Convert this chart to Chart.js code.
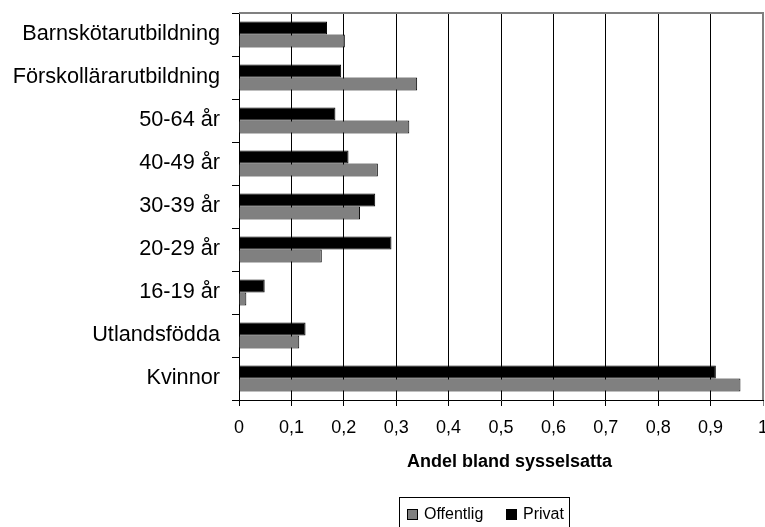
<!DOCTYPE html>
<html>
<head>
<meta charset="utf-8">
<script src="https://cdn.jsdelivr.net/npm/chart.js@4"></script>
<style>
  body { margin: 0; background: #fff; }
  canvas { display: block; }
</style>
</head>
<body>
<canvas id="chart" width="765" height="527"></canvas>
<script>
const categories = [
  "Barnskötarutbildning",
  "Förskollärarutbildning",
  "50-64 år",
  "40-49 år",
  "30-39 år",
  "20-29 år",
  "16-19 år",
  "Utlandsfödda",
  "Kvinnor"
];
const privat = [0.168, 0.195, 0.184, 0.209, 0.260, 0.291, 0.049, 0.127, 0.910];
const offentlig = [0.202, 0.340, 0.325, 0.265, 0.231, 0.158, 0.014, 0.115, 0.957];
const xTicks = { min: 0, max: 1, step: 0.1 };
const axisTitle = "Andel bland sysselsatta";

const FONT = "'Liberation Sans', Arial, sans-serif";

// top/right frame of the plot area, axis title and boxed legend
const framePlugin = {
  id: "frame",
  afterDraw(chart) {
    const { ctx, chartArea } = chart;
    ctx.save();
    ctx.strokeStyle = "#808080";
    ctx.lineWidth = 2;
    ctx.beginPath();
    ctx.moveTo(chartArea.left, chartArea.top);
    ctx.lineTo(chartArea.right, chartArea.top);
    ctx.lineTo(chartArea.right, chartArea.bottom);
    ctx.stroke();

    // x axis title (sits a bit right of the plot centre in the original)
    ctx.fillStyle = "#000";
    ctx.font = "bold 18px " + FONT;
    ctx.textAlign = "left";
    ctx.textBaseline = "middle";
    ctx.fillText(axisTitle, 407, 462);

    // legend box
    ctx.strokeStyle = "#000";
    ctx.lineWidth = 1;
    ctx.strokeRect(399.5, 497.5, 170, 40);

    const items = chart.data.datasets.slice().reverse();
    const xs = [407, 506];
    ctx.font = "16px " + FONT;
    items.forEach((ds, i) => {
      ctx.fillStyle = ds.backgroundColor;
      ctx.fillRect(xs[i] + 0.5, 509.5, 10, 10);
      ctx.strokeStyle = "#000";
      ctx.strokeRect(xs[i] + 0.5, 509.5, 10, 10);
      ctx.fillStyle = "#000";
      ctx.fillText(ds.label, xs[i] + 17, 515);
    });
    ctx.restore();
  }
};

new Chart(document.getElementById("chart"), {
  type: "bar",
  data: {
    labels: categories,
    datasets: [
      {
        label: "Privat",
        data: privat,
        backgroundColor: "#000000",
        borderColor: "#000000",
        borderWidth: 1,
        categoryPercentage: 0.6,
        barPercentage: 1
      },
      {
        label: "Offentlig",
        data: offentlig,
        backgroundColor: "#808080",
        borderColor: "#000000",
        borderWidth: 1,
        categoryPercentage: 0.6,
        barPercentage: 1
      }
    ]
  },
  options: {
    indexAxis: "y",
    responsive: false,
    animation: false,
    layout: { padding: { top: 13, right: 2, left: 0, bottom: 0 } },
    plugins: {
      legend: { display: false },
      tooltip: { enabled: false }
    },
    scales: {
      x: {
        min: xTicks.min,
        max: xTicks.max,
        afterFit(scale) {
          scale.height = 127;
          scale.paddingLeft = 0;
          scale.paddingRight = 0;
        },
        ticks: {
          stepSize: xTicks.step,
          padding: 11,
          color: "#000",
          font: { family: FONT, size: 18 },
          maxRotation: 0,
          callback: (v) => {
            if (Math.abs(v) < 1e-9) return "0";
            if (Math.abs(v - 1) < 1e-9) return "1";
            return v.toFixed(1).replace(".", ",");
          }
        },
        grid: {
          color: (c) => (c.tick && Math.abs(c.tick.value - 1) < 1e-9 ? "#808080" : "#000"),
          lineWidth: 1,
          tickLength: 6
        },
        border: { color: "#000", width: 1 }
      },
      y: {
        afterFit(scale) {
          scale.width = 239;
          scale.paddingTop = 0;
          scale.paddingBottom = 0;
        },
        ticks: {
          padding: 12,
          color: "#000",
          font: { family: FONT, size: 21.7 }
        },
        grid: {
          drawOnChartArea: false,
          color: "#000",
          tickLength: 7
        },
        border: { color: "#000", width: 1 }
      }
    }
  },
  plugins: [framePlugin]
});
</script>
</body>
</html>
